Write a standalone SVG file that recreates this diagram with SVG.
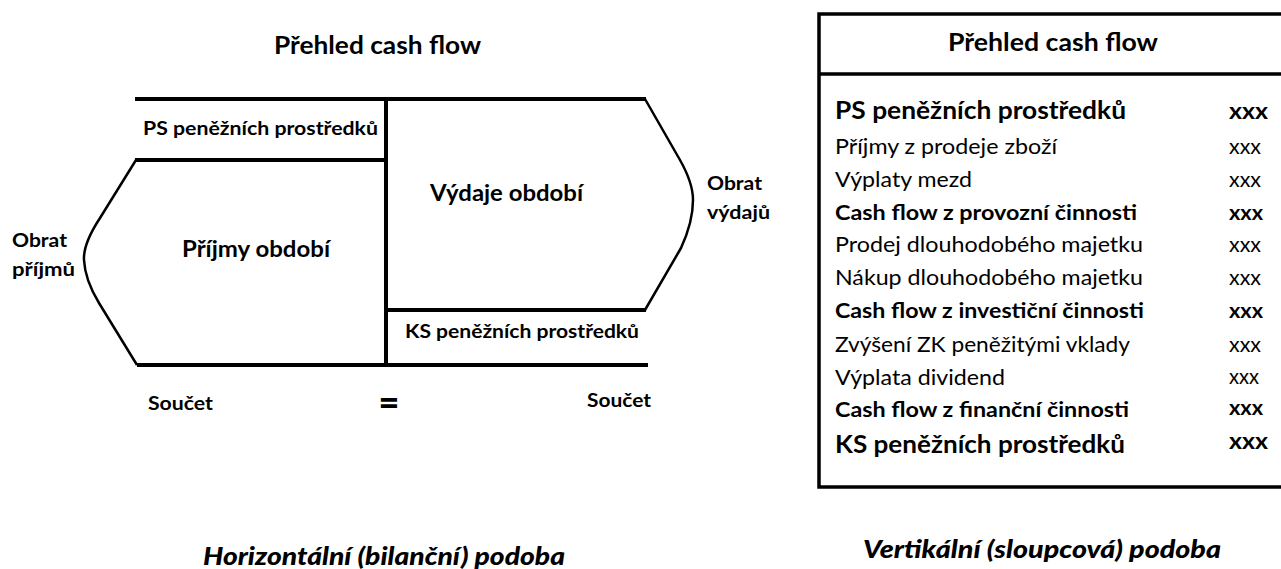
<svg xmlns="http://www.w3.org/2000/svg" width="1281" height="569" viewBox="0 0 1281 569">
  <style>
    text { font-family: Lato, "Open Sans", "Liberation Sans", sans-serif; fill: #000; }
    .b { font-weight: bold; }
    .line { stroke: #000; stroke-width: 4; fill: none; stroke-linecap: butt; }
    .curve { stroke: #000; stroke-width: 2.5; fill: none; stroke-linejoin: round; }
    .cap { font-weight: 900; font-style: italic; font-size: 24px; }
  </style>
  <rect width="1281" height="569" fill="#fff"/>

  <!-- Horizontal (balance) form -->
  <g id="horizontal">
    <text class="b" x="274" y="54" font-size="24" textLength="207" lengthAdjust="spacingAndGlyphs">Přehled cash flow</text>
    <g id="frame">
      <line class="line" x1="135" y1="99" x2="646" y2="99"/>
      <line class="line" x1="386" y1="97" x2="386" y2="367"/>
      <line class="line" x1="135" y1="160" x2="386" y2="160"/>
      <line class="line" x1="386" y1="310" x2="646" y2="310"/>
      <line class="line" x1="137" y1="365" x2="648" y2="365"/>
      <path class="curve" d="M136,160 L100,218 Q83,244 84,260 Q85,280 99,303 L137,365"/>
      <path class="curve" d="M645,99 L680,160 Q693,183 693,200 Q693,222 681,248 L645,310"/>
    </g>
    <g id="ps-left"><text class="b" x="143" y="135" font-size="19" textLength="235" lengthAdjust="spacingAndGlyphs">PS peněžních prostředků</text></g>
    <g id="prijmy"><text class="b" x="182" y="257" font-size="22.5" textLength="148" lengthAdjust="spacingAndGlyphs">Příjmy období</text></g>
    <g id="vydaje"><text class="b" x="430" y="201" font-size="22.5" textLength="153" lengthAdjust="spacingAndGlyphs">Výdaje období</text></g>
    <g id="ks-left"><text class="b" x="405" y="338" font-size="19" textLength="234" lengthAdjust="spacingAndGlyphs">KS peněžních prostředků</text></g>
    <g id="obrat-prijmu">
      <text class="b" x="12" y="247" font-size="19" textLength="55" lengthAdjust="spacingAndGlyphs">Obrat</text>
      <text class="b" x="12" y="276" font-size="19" textLength="63" lengthAdjust="spacingAndGlyphs">příjmů</text>
    </g>
    <g id="obrat-vydaju">
      <text class="b" x="707" y="190" font-size="19" textLength="55" lengthAdjust="spacingAndGlyphs">Obrat</text>
      <text class="b" x="707" y="219" font-size="19" textLength="63" lengthAdjust="spacingAndGlyphs">výdajů</text>
    </g>
    <text class="b" x="148" y="410" font-size="19" textLength="65" lengthAdjust="spacingAndGlyphs">Součet</text>
    <text x="389" y="415" font-size="36" font-weight="900" text-anchor="middle">=</text>
    <text class="b" x="587" y="407" font-size="19" textLength="64" lengthAdjust="spacingAndGlyphs">Součet</text>
    <text class="cap" x="203" y="565" textLength="362" lengthAdjust="spacingAndGlyphs">Horizontální (bilanční) podoba</text>
  </g>

  <!-- Vertical (column) form -->
  <g id="vertical">
    <rect x="819" y="14" width="470" height="473" fill="none" stroke="#000" stroke-width="3.5"/>
    <line x1="819" y1="74" x2="1281" y2="74" stroke="#000" stroke-width="3.5"/>
    <text class="b" x="948" y="51" font-size="24" textLength="210" lengthAdjust="spacingAndGlyphs">Přehled cash flow</text>
    <g id="rows" font-size="21">
      <text class="b" x="835" y="119" font-size="24" textLength="291" lengthAdjust="spacingAndGlyphs">PS peněžních prostředků</text>
      <text x="835" y="154" textLength="222" lengthAdjust="spacingAndGlyphs">Příjmy z prodeje zboží</text>
      <text x="835" y="187" textLength="137" lengthAdjust="spacingAndGlyphs">Výplaty mezd</text>
      <text class="b" x="835" y="220" textLength="302" lengthAdjust="spacingAndGlyphs">Cash flow z provozní činnosti</text>
      <text x="835" y="252" textLength="308" lengthAdjust="spacingAndGlyphs">Prodej dlouhodobého majetku</text>
      <text x="835" y="285" textLength="308" lengthAdjust="spacingAndGlyphs">Nákup dlouhodobého majetku</text>
      <text class="b" x="835" y="318" textLength="309" lengthAdjust="spacingAndGlyphs">Cash flow z investiční činnosti</text>
      <text x="835" y="352" textLength="295" lengthAdjust="spacingAndGlyphs">Zvýšení ZK peněžitými vklady</text>
      <text x="835" y="385" textLength="170" lengthAdjust="spacingAndGlyphs">Výplata dividend</text>
      <text class="b" x="835" y="417" textLength="294" lengthAdjust="spacingAndGlyphs">Cash flow z finanční činnosti</text>
      <text class="b" x="835" y="453" font-size="24" textLength="290" lengthAdjust="spacingAndGlyphs">KS peněžních prostředků</text>
    </g>
    <g id="values" font-size="21">
      <text class="b" x="1229" y="119" font-size="23" textLength="39" lengthAdjust="spacingAndGlyphs">xxx</text>
      <text x="1229" y="154" textLength="32" lengthAdjust="spacingAndGlyphs">xxx</text>
      <text x="1229" y="187" textLength="32" lengthAdjust="spacingAndGlyphs">xxx</text>
      <text class="b" x="1229" y="220" textLength="34" lengthAdjust="spacingAndGlyphs">xxx</text>
      <text x="1229" y="252" textLength="32" lengthAdjust="spacingAndGlyphs">xxx</text>
      <text x="1229" y="285" textLength="32" lengthAdjust="spacingAndGlyphs">xxx</text>
      <text class="b" x="1229" y="318" textLength="34" lengthAdjust="spacingAndGlyphs">xxx</text>
      <text x="1229" y="352" textLength="32" lengthAdjust="spacingAndGlyphs">xxx</text>
      <text x="1229" y="384" textLength="30" lengthAdjust="spacingAndGlyphs">xxx</text>
      <text class="b" x="1229" y="415" textLength="34" lengthAdjust="spacingAndGlyphs">xxx</text>
      <text class="b" x="1229" y="449" font-size="23" textLength="39" lengthAdjust="spacingAndGlyphs">xxx</text>
    </g>
    <text class="cap" x="863" y="558" textLength="358" lengthAdjust="spacingAndGlyphs">Vertikální (sloupcová) podoba</text>
  </g>
</svg>
